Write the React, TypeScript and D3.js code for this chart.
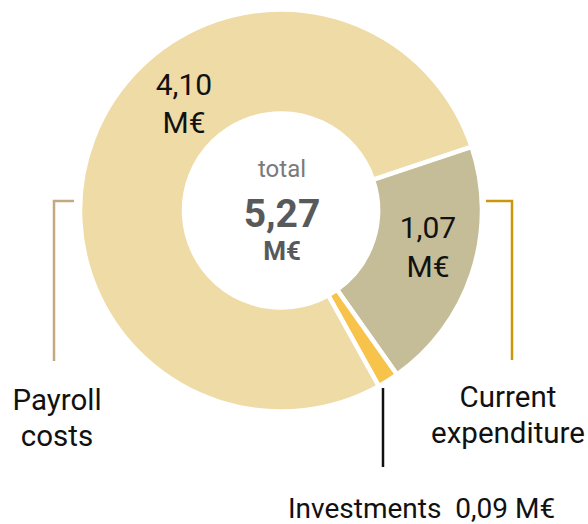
import * as d3 from "d3";

// slices, clockwise from the top-right gap
const categories = ["Current expenditure", "Investments", "Payroll costs"];
const values = [1.07, 0.09, 4.1];
const colors = ["#c5bc98", "#f7c34a", "#efdba6"];
const totalLabel = "5,27";

const W = 588;
const H = 524;
const cx = 281;
const cy = 210.5;

export default function App() {
  const pie = d3
    .pie<number>()
    .sort(null)
    .value((d) => d)
    .startAngle((71.5 * Math.PI) / 180)
    .endAngle((71.5 * Math.PI) / 180 + 2 * Math.PI);

  const arc = d3.arc<d3.PieArcDatum<number>>().innerRadius(97).outerRadius(201);
  const slices = pie(values);

  const font = "Roboto, 'Noto Sans', sans-serif";

  return (
    <svg
      width={W}
      height={H}
      style={{ position: "absolute", left: 0, top: 0, display: "block" }}
      fontFamily={font}
    >
      <g transform={`translate(${cx},${cy})`}>
        {slices.map((s, i) => (
          <path
            key={categories[i]}
            d={arc(s) || ""}
            fill={colors[i]}
            stroke="#fff"
            strokeWidth={4.5}
            strokeLinejoin="miter"
          />
        ))}
      </g>

      {/* value labels inside the ring */}
      <g fill="#111" fontSize={30} textAnchor="middle">
        <text x={184} y={95}>4,10</text>
        <text x={184} y={133}>M€</text>
        <text x={428} y={238}>1,07</text>
        <text x={428} y={277}>M€</text>
      </g>

      {/* total in the hole */}
      <g textAnchor="middle">
        <text x={282} y={177} fontSize={24} fill="#7a7a7a">total</text>
        <text x={282} y={227} fontSize={39} fontWeight="bold" fill="#58595b">
          {totalLabel}
        </text>
        <text x={282} y={260} fontSize={26} fontWeight="bold" fill="#58595b">M€</text>
      </g>

      {/* leader brackets */}
      <path d="M74,201 H54 V361" fill="none" stroke="#c4a882" strokeWidth={2.5} />
      <path d="M486,201 H512 V360" fill="none" stroke="#c9960c" strokeWidth={2.5} />
      <line x1={383} y1={388} x2={383} y2={467} stroke="#111" strokeWidth={2.5} />

      {/* category labels */}
      <g fill="#111" fontSize={29.5} textAnchor="middle">
        <text x={57} y={410}>Payroll</text>
        <text x={57} y={446}>costs</text>
        <text x={508} y={407}>Current</text>
        <text x={508} y={443}>expenditure</text>
      </g>
      <text x={288} y={518} fontSize={28} fill="#111" style={{ whiteSpace: "pre" }}>
        Investments  0,09 M€
      </text>
    </svg>
  );
}
